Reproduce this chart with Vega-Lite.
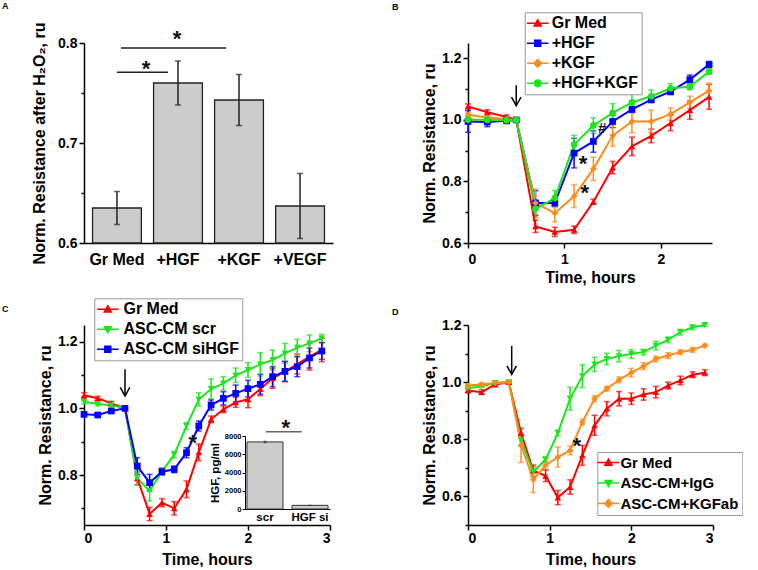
{
  "$schema": "https://vega.github.io/schema/vega-lite/v6.json",
  "padding": {"left": 2, "top": 1, "right": 0, "bottom": 0},
  "bounds": "flush",
  "align": "all",
  "columns": 2,
  "spacing": {"row": 82, "column": 135},
  "resolve": {"scale": {"color": "independent", "shape": "independent", "fill": "independent", "stroke": "independent"}},
  "datasets": {
    "a_bars": [
      {"group": "Gr Med", "value": 0.635, "err": 0.0165},
      {"group": "+HGF", "value": 0.76, "err": 0.022},
      {"group": "+KGF", "value": 0.743, "err": 0.0255},
      {"group": "+VEGF", "value": 0.637, "err": 0.0325}
    ],
    "a_sig": [
      {"x": 1.0, "x2": 1.837, "value": 0.7707},
      {"x": 1.067, "x2": 2.79, "value": 0.795}
    ],
    "a_text": [
      {"x": 1.477, "value": 0.767, "label": "*"},
      {"x": 1.985, "value": 0.7975, "label": "*"}
    ],
    "b": [
      {"series": "Gr Med", "t": 0, "v": 1.044, "err": 0.008},
      {"series": "Gr Med", "t": 0.2, "v": 1.025, "err": 0.008},
      {"series": "Gr Med", "t": 0.4, "v": 1.01, "err": 0.006},
      {"series": "Gr Med", "t": 0.5, "v": 1.0, "err": 0.004},
      {"series": "Gr Med", "t": 0.7, "v": 0.654, "err": 0.02},
      {"series": "Gr Med", "t": 0.9, "v": 0.636, "err": 0.015},
      {"series": "Gr Med", "t": 1.1, "v": 0.643, "err": 0.012},
      {"series": "Gr Med", "t": 1.3, "v": 0.734, "err": 0.008},
      {"series": "Gr Med", "t": 1.5, "v": 0.845, "err": 0.02},
      {"series": "Gr Med", "t": 1.7, "v": 0.914, "err": 0.03},
      {"series": "Gr Med", "t": 1.9, "v": 0.948, "err": 0.022},
      {"series": "Gr Med", "t": 2.1, "v": 0.99, "err": 0.025},
      {"series": "Gr Med", "t": 2.3, "v": 1.032, "err": 0.03},
      {"series": "Gr Med", "t": 2.5, "v": 1.075, "err": 0.04},
      {"series": "+HGF", "t": 0, "v": 0.995, "err": 0.035},
      {"series": "+HGF", "t": 0.2, "v": 0.993, "err": 0.015},
      {"series": "+HGF", "t": 0.4, "v": 0.997, "err": 0.008},
      {"series": "+HGF", "t": 0.5, "v": 1.0, "err": 0.005},
      {"series": "+HGF", "t": 0.7, "v": 0.73, "err": 0.04},
      {"series": "+HGF", "t": 0.9, "v": 0.73, "err": 0.012},
      {"series": "+HGF", "t": 1.1, "v": 0.892, "err": 0.048},
      {"series": "+HGF", "t": 1.3, "v": 0.93, "err": 0.035},
      {"series": "+HGF", "t": 1.5, "v": 0.995, "err": 0.02},
      {"series": "+HGF", "t": 1.7, "v": 1.034, "err": 0.01},
      {"series": "+HGF", "t": 1.9, "v": 1.066, "err": 0.01},
      {"series": "+HGF", "t": 2.1, "v": 1.092, "err": 0.01},
      {"series": "+HGF", "t": 2.3, "v": 1.131, "err": 0.015},
      {"series": "+HGF", "t": 2.5, "v": 1.18, "err": 0.01},
      {"series": "+KGF", "t": 0, "v": 1.017, "err": 0.008},
      {"series": "+KGF", "t": 0.2, "v": 1.008, "err": 0.008},
      {"series": "+KGF", "t": 0.4, "v": 1.003, "err": 0.006},
      {"series": "+KGF", "t": 0.5, "v": 1.0, "err": 0.004},
      {"series": "+KGF", "t": 0.7, "v": 0.73, "err": 0.045},
      {"series": "+KGF", "t": 0.9, "v": 0.697, "err": 0.028},
      {"series": "+KGF", "t": 1.1, "v": 0.752, "err": 0.037},
      {"series": "+KGF", "t": 1.3, "v": 0.841, "err": 0.038},
      {"series": "+KGF", "t": 1.5, "v": 0.949, "err": 0.035},
      {"series": "+KGF", "t": 1.7, "v": 0.995, "err": 0.037},
      {"series": "+KGF", "t": 1.9, "v": 0.995, "err": 0.037},
      {"series": "+KGF", "t": 2.1, "v": 1.019, "err": 0.02},
      {"series": "+KGF", "t": 2.3, "v": 1.057, "err": 0.02},
      {"series": "+KGF", "t": 2.5, "v": 1.095, "err": 0.025},
      {"series": "+HGF+KGF", "t": 0, "v": 1.001, "err": 0.01},
      {"series": "+HGF+KGF", "t": 0.2, "v": 1.0, "err": 0.008},
      {"series": "+HGF+KGF", "t": 0.4, "v": 0.999, "err": 0.006},
      {"series": "+HGF+KGF", "t": 0.5, "v": 1.0, "err": 0.004},
      {"series": "+HGF+KGF", "t": 0.7, "v": 0.711, "err": 0.03},
      {"series": "+HGF+KGF", "t": 0.9, "v": 0.746, "err": 0.025},
      {"series": "+HGF+KGF", "t": 1.1, "v": 0.92, "err": 0.03},
      {"series": "+HGF+KGF", "t": 1.3, "v": 0.982, "err": 0.025},
      {"series": "+HGF+KGF", "t": 1.5, "v": 1.023, "err": 0.03},
      {"series": "+HGF+KGF", "t": 1.7, "v": 1.057, "err": 0.03},
      {"series": "+HGF+KGF", "t": 1.9, "v": 1.077, "err": 0.02},
      {"series": "+HGF+KGF", "t": 2.1, "v": 1.103, "err": 0.015},
      {"series": "+HGF+KGF", "t": 2.3, "v": 1.108, "err": 0.01},
      {"series": "+HGF+KGF", "t": 2.5, "v": 1.157, "err": 0.008}
    ],
    "b_arrow": [{"t": 0.5, "v": 1.113, "v2": 1.046}],
    "b_text": [
      {"t": 1.193, "v": 0.835, "label": "*"},
      {"t": 1.21, "v": 0.741, "label": "*"},
      {"t": 1.39, "v": 0.958, "label": "#"}
    ],
    "c": [
      {"series": "Gr Med", "t": 0, "v": 1.039, "err": 0.008},
      {"series": "Gr Med", "t": 0.167, "v": 1.03, "err": 0.006},
      {"series": "Gr Med", "t": 0.333, "v": 1.015, "err": 0.006},
      {"series": "Gr Med", "t": 0.5, "v": 1.0, "err": 0.004},
      {"series": "Gr Med", "t": 0.65, "v": 0.79, "err": 0.02},
      {"series": "Gr Med", "t": 0.8, "v": 0.683, "err": 0.02},
      {"series": "Gr Med", "t": 0.95, "v": 0.717, "err": 0.012},
      {"series": "Gr Med", "t": 1.1, "v": 0.7, "err": 0.02},
      {"series": "Gr Med", "t": 1.25, "v": 0.757, "err": 0.025},
      {"series": "Gr Med", "t": 1.4, "v": 0.868, "err": 0.025},
      {"series": "Gr Med", "t": 1.55, "v": 0.967, "err": 0.01},
      {"series": "Gr Med", "t": 1.7, "v": 0.997, "err": 0.01},
      {"series": "Gr Med", "t": 1.85, "v": 1.018, "err": 0.015},
      {"series": "Gr Med", "t": 2.0, "v": 1.027, "err": 0.025},
      {"series": "Gr Med", "t": 2.15, "v": 1.058, "err": 0.02},
      {"series": "Gr Med", "t": 2.3, "v": 1.09, "err": 0.03},
      {"series": "Gr Med", "t": 2.45, "v": 1.11, "err": 0.03},
      {"series": "Gr Med", "t": 2.6, "v": 1.133, "err": 0.03},
      {"series": "Gr Med", "t": 2.75, "v": 1.155, "err": 0.04},
      {"series": "Gr Med", "t": 2.9, "v": 1.175, "err": 0.035},
      {"series": "ASC-CM scr", "t": 0, "v": 1.02, "err": 0.006},
      {"series": "ASC-CM scr", "t": 0.167, "v": 1.013, "err": 0.006},
      {"series": "ASC-CM scr", "t": 0.333, "v": 1.009, "err": 0.005},
      {"series": "ASC-CM scr", "t": 0.5, "v": 1.0, "err": 0.004},
      {"series": "ASC-CM scr", "t": 0.65, "v": 0.79, "err": 0.02},
      {"series": "ASC-CM scr", "t": 0.8, "v": 0.752, "err": 0.03},
      {"series": "ASC-CM scr", "t": 0.95, "v": 0.81, "err": 0.01},
      {"series": "ASC-CM scr", "t": 1.1, "v": 0.861, "err": 0.01},
      {"series": "ASC-CM scr", "t": 1.25, "v": 0.947, "err": 0.01},
      {"series": "ASC-CM scr", "t": 1.4, "v": 1.027, "err": 0.02},
      {"series": "ASC-CM scr", "t": 1.55, "v": 1.058, "err": 0.03},
      {"series": "ASC-CM scr", "t": 1.7, "v": 1.075, "err": 0.02},
      {"series": "ASC-CM scr", "t": 1.85, "v": 1.099, "err": 0.022},
      {"series": "ASC-CM scr", "t": 2.0, "v": 1.115, "err": 0.022},
      {"series": "ASC-CM scr", "t": 2.15, "v": 1.132, "err": 0.035},
      {"series": "ASC-CM scr", "t": 2.3, "v": 1.145, "err": 0.03},
      {"series": "ASC-CM scr", "t": 2.45, "v": 1.165, "err": 0.03},
      {"series": "ASC-CM scr", "t": 2.6, "v": 1.182, "err": 0.025},
      {"series": "ASC-CM scr", "t": 2.75, "v": 1.195, "err": 0.025},
      {"series": "ASC-CM scr", "t": 2.9, "v": 1.21, "err": 0.012},
      {"series": "ASC-CM siHGF", "t": 0, "v": 0.982, "err": 0.006},
      {"series": "ASC-CM siHGF", "t": 0.167, "v": 0.98, "err": 0.005},
      {"series": "ASC-CM siHGF", "t": 0.333, "v": 0.992, "err": 0.006},
      {"series": "ASC-CM siHGF", "t": 0.5, "v": 1.0, "err": 0.004},
      {"series": "ASC-CM siHGF", "t": 0.65, "v": 0.827, "err": 0.025},
      {"series": "ASC-CM siHGF", "t": 0.8, "v": 0.777, "err": 0.025},
      {"series": "ASC-CM siHGF", "t": 0.95, "v": 0.81, "err": 0.01},
      {"series": "ASC-CM siHGF", "t": 1.1, "v": 0.817, "err": 0.01},
      {"series": "ASC-CM siHGF", "t": 1.25, "v": 0.867, "err": 0.015},
      {"series": "ASC-CM siHGF", "t": 1.4, "v": 0.947, "err": 0.015},
      {"series": "ASC-CM siHGF", "t": 1.55, "v": 1.01, "err": 0.015},
      {"series": "ASC-CM siHGF", "t": 1.7, "v": 1.03, "err": 0.02},
      {"series": "ASC-CM siHGF", "t": 1.85, "v": 1.045, "err": 0.025},
      {"series": "ASC-CM siHGF", "t": 2.0, "v": 1.059, "err": 0.025},
      {"series": "ASC-CM siHGF", "t": 2.15, "v": 1.072, "err": 0.03},
      {"series": "ASC-CM siHGF", "t": 2.3, "v": 1.095, "err": 0.03},
      {"series": "ASC-CM siHGF", "t": 2.45, "v": 1.111, "err": 0.03},
      {"series": "ASC-CM siHGF", "t": 2.6, "v": 1.125, "err": 0.03},
      {"series": "ASC-CM siHGF", "t": 2.75, "v": 1.151, "err": 0.03},
      {"series": "ASC-CM siHGF", "t": 2.9, "v": 1.172, "err": 0.025}
    ],
    "c_arrow": [{"t": 0.5, "v": 1.117, "v2": 1.037}],
    "c_text": [
      {"t": 1.326, "v": 0.875, "label": "*"},
      {"t": 2.46, "v": 0.92, "label": "*"}
    ],
    "c_sig": [{"t": 2.216, "t2": 2.655, "v": 0.93}],
    "inset": [
      {"sample": "scr", "hgf": 7350, "err": 80},
      {"sample": "HGF si", "hgf": 400, "err": 20}
    ],
    "d": [
      {"series": "Gr Med", "t": 0, "v": 0.971, "err": 0.008},
      {"series": "Gr Med", "t": 0.167, "v": 0.965, "err": 0.008},
      {"series": "Gr Med", "t": 0.333, "v": 0.992, "err": 0.008},
      {"series": "Gr Med", "t": 0.5, "v": 1.0, "err": 0.004},
      {"series": "Gr Med", "t": 0.65, "v": 0.822, "err": 0.015},
      {"series": "Gr Med", "t": 0.8, "v": 0.69, "err": 0.02},
      {"series": "Gr Med", "t": 0.95, "v": 0.672, "err": 0.02},
      {"series": "Gr Med", "t": 1.1, "v": 0.596, "err": 0.025},
      {"series": "Gr Med", "t": 1.25, "v": 0.633, "err": 0.025},
      {"series": "Gr Med", "t": 1.4, "v": 0.744, "err": 0.035},
      {"series": "Gr Med", "t": 1.55, "v": 0.849, "err": 0.035},
      {"series": "Gr Med", "t": 1.7, "v": 0.907, "err": 0.025},
      {"series": "Gr Med", "t": 1.85, "v": 0.942, "err": 0.025},
      {"series": "Gr Med", "t": 2.0, "v": 0.942, "err": 0.02},
      {"series": "Gr Med", "t": 2.15, "v": 0.957, "err": 0.02},
      {"series": "Gr Med", "t": 2.3, "v": 0.965, "err": 0.02},
      {"series": "Gr Med", "t": 2.45, "v": 0.988, "err": 0.012},
      {"series": "Gr Med", "t": 2.6, "v": 1.006, "err": 0.015},
      {"series": "Gr Med", "t": 2.75, "v": 1.026, "err": 0.01},
      {"series": "Gr Med", "t": 2.9, "v": 1.033, "err": 0.01},
      {"series": "ASC-CM+IgG", "t": 0, "v": 0.979, "err": 0.006},
      {"series": "ASC-CM+IgG", "t": 0.167, "v": 0.986, "err": 0.005},
      {"series": "ASC-CM+IgG", "t": 0.333, "v": 0.997, "err": 0.005},
      {"series": "ASC-CM+IgG", "t": 0.5, "v": 1.0, "err": 0.004},
      {"series": "ASC-CM+IgG", "t": 0.65, "v": 0.796, "err": 0.02},
      {"series": "ASC-CM+IgG", "t": 0.8, "v": 0.686, "err": 0.015},
      {"series": "ASC-CM+IgG", "t": 0.95, "v": 0.729, "err": 0.01},
      {"series": "ASC-CM+IgG", "t": 1.1, "v": 0.822, "err": 0.01},
      {"series": "ASC-CM+IgG", "t": 1.25, "v": 0.942, "err": 0.04},
      {"series": "ASC-CM+IgG", "t": 1.4, "v": 1.021, "err": 0.04},
      {"series": "ASC-CM+IgG", "t": 1.55, "v": 1.062, "err": 0.025},
      {"series": "ASC-CM+IgG", "t": 1.7, "v": 1.081, "err": 0.02},
      {"series": "ASC-CM+IgG", "t": 1.85, "v": 1.091, "err": 0.02},
      {"series": "ASC-CM+IgG", "t": 2.0, "v": 1.099, "err": 0.015},
      {"series": "ASC-CM+IgG", "t": 2.15, "v": 1.105, "err": 0.01},
      {"series": "ASC-CM+IgG", "t": 2.3, "v": 1.128, "err": 0.015},
      {"series": "ASC-CM+IgG", "t": 2.45, "v": 1.148, "err": 0.01},
      {"series": "ASC-CM+IgG", "t": 2.6, "v": 1.175, "err": 0.01},
      {"series": "ASC-CM+IgG", "t": 2.75, "v": 1.192, "err": 0.008},
      {"series": "ASC-CM+IgG", "t": 2.9, "v": 1.2, "err": 0.005},
      {"series": "ASC-CM+KGFab", "t": 0, "v": 0.988, "err": 0.006},
      {"series": "ASC-CM+KGFab", "t": 0.167, "v": 0.992, "err": 0.005},
      {"series": "ASC-CM+KGFab", "t": 0.333, "v": 0.997, "err": 0.005},
      {"series": "ASC-CM+KGFab", "t": 0.5, "v": 1.0, "err": 0.004},
      {"series": "ASC-CM+KGFab", "t": 0.65, "v": 0.779, "err": 0.06},
      {"series": "ASC-CM+KGFab", "t": 0.8, "v": 0.659, "err": 0.045},
      {"series": "ASC-CM+KGFab", "t": 0.95, "v": 0.709, "err": 0.015},
      {"series": "ASC-CM+KGFab", "t": 1.1, "v": 0.738, "err": 0.035},
      {"series": "ASC-CM+KGFab", "t": 1.25, "v": 0.761, "err": 0.015},
      {"series": "ASC-CM+KGFab", "t": 1.4, "v": 0.86, "err": 0.01},
      {"series": "ASC-CM+KGFab", "t": 1.55, "v": 0.942, "err": 0.01},
      {"series": "ASC-CM+KGFab", "t": 1.7, "v": 0.977, "err": 0.008},
      {"series": "ASC-CM+KGFab", "t": 1.85, "v": 1.008, "err": 0.01},
      {"series": "ASC-CM+KGFab", "t": 2.0, "v": 1.033, "err": 0.015},
      {"series": "ASC-CM+KGFab", "t": 2.15, "v": 1.056, "err": 0.012},
      {"series": "ASC-CM+KGFab", "t": 2.3, "v": 1.081, "err": 0.01},
      {"series": "ASC-CM+KGFab", "t": 2.45, "v": 1.093, "err": 0.01},
      {"series": "ASC-CM+KGFab", "t": 2.6, "v": 1.105, "err": 0.008},
      {"series": "ASC-CM+KGFab", "t": 2.75, "v": 1.113, "err": 0.008},
      {"series": "ASC-CM+KGFab", "t": 2.9, "v": 1.128, "err": 0.005}
    ],
    "d_arrow": [{"t": 0.535, "v": 1.127, "v2": 1.027}],
    "d_text": [{"t": 1.331, "v": 0.751, "label": "*"}]
  },
  "concat": [
    {
      "width": 249,
      "height": 200,
      "title": {"text": "A", "dx": -82, "dy": -7.5},
      "encoding": {
        "y": {"field": "value", "type": "quantitative", "scale": {"domain": [0.6, 0.8], "zero": false, "nice": false}, "axis": {"title": "Norm. Resistance after H₂O₂, ru", "titlePadding": 10, "values": [0.6, 0.65, 0.7, 0.75, 0.8], "format": ".1f", "labelExpr": "abs(datum.value*10 - round(datum.value*10)) < 0.001 ? datum.label : ''", "tickSize": {"condition": {"test": "abs(datum.value*10 - round(datum.value*10)) < 0.001", "value": 5}, "value": 3}}}
      },
      "layer": [
        {
          "data": {"name": "a_bars"},
          "encoding": {
            "x": {"field": "group", "type": "nominal", "sort": null, "scale": {"paddingInner": 0.2, "paddingOuter": 0.14}, "axis": {"title": null, "labelAngle": 0, "labelFontSize": 16, "ticks": false, "labelPadding": 8}}
          },
          "layer": [
            {
              "mark": {"type": "bar", "fill": "#cccccc", "stroke": "#222222", "strokeWidth": 1.3},
              "encoding": {"y2": {"datum": 0.6}}
            },
            {
              "mark": {"type": "errorbar", "ticks": true, "size": 6, "thickness": 1.5, "color": "#222222"},
              "encoding": {"yError": {"field": "err"}}
            }
          ]
        },
        {
          "encoding": {
            "x": {"field": "x", "type": "quantitative", "scale": {"domain": [0.461, 4.541], "nice": false, "zero": false}, "axis": null}
          },
          "layer": [
            {
              "data": {"name": "a_sig"},
              "mark": {"type": "rule", "strokeWidth": 1.5, "color": "#222222"},
              "encoding": {"x2": {"field": "x2"}}
            },
            {
              "data": {"name": "a_text"},
              "mark": {"type": "text", "fontSize": 22, "fontWeight": "bold", "baseline": "alphabetic", "align": "center", "color": "#111111"},
              "encoding": {"text": {"field": "label"}}
            }
          ]
        }
      ],
      "resolve": {"scale": {"x": "independent"}}
    },
    {
      "width": 244,
      "height": 200,
      "title": {"text": "B", "dx": -76, "dy": 4},
      "encoding": {
        "x": {"field": "t", "type": "quantitative", "scale": {"domain": [0, 2.53], "nice": false, "zero": false}, "axis": {"title": "Time, hours", "values": [0, 0.5, 1, 1.5, 2, 2.5], "format": "d", "labelExpr": "datum.value % 1 === 0 ? datum.label : ''", "tickSize": {"condition": {"test": "datum.value % 1 === 0", "value": 5}, "value": 3}, "labelPadding": 4, "titlePadding": 3}},
        "y": {"field": "v", "type": "quantitative", "title": "Norm. Resistance, ru", "scale": {"domain": [0.6, 1.25], "nice": false, "zero": false}, "axis": {"title": "Norm. Resistance, ru", "values": [0.6, 0.7, 0.8, 0.9, 1.0, 1.1, 1.2], "format": ".1f", "labelExpr": "round(datum.value*10) % 2 === 0 ? datum.label : ''", "tickSize": {"condition": {"test": "round(datum.value*10) % 2 === 0", "value": 5}, "value": 3}}}
      },
      "layer": [
        {
          "data": {"name": "b"},
          "mark": {"type": "errorbar", "ticks": true, "size": 6, "thickness": 1.5},
          "encoding": {
            "yError": {"field": "err"},
            "color": {"field": "series", "type": "nominal", "scale": {"domain": ["Gr Med", "+HGF", "+KGF", "+HGF+KGF"], "range": ["#ff0000", "#0000ff", "#ff8c1a", "#1ee61e"]}, "legend": null}
          }
        },
        {
          "data": {"name": "b"},
          "mark": {"type": "line", "strokeWidth": 2},
          "encoding": {
            "color": {"field": "series", "type": "nominal", "scale": {"domain": ["Gr Med", "+HGF", "+KGF", "+HGF+KGF"], "range": ["#ff0000", "#0000ff", "#ff8c1a", "#1ee61e"]}, "legend": null}
          }
        },
        {
          "data": {"name": "b"},
          "mark": {"type": "point", "filled": true, "size": 45, "opacity": 1},
          "encoding": {
            "color": {"field": "series", "type": "nominal", "scale": {"domain": ["Gr Med", "+HGF", "+KGF", "+HGF+KGF"], "range": ["#ff0000", "#0000ff", "#ff8c1a", "#1ee61e"]}, "legend": null},
            "shape": {"field": "series", "type": "nominal", "scale": {"domain": ["Gr Med", "+HGF", "+KGF", "+HGF+KGF"], "range": ["triangle-up", "square", "diamond", "circle"]}, "legend": null}
          }
        },
        {
          "data": {"name": "b"},
          "mark": {"type": "point", "filled": true, "size": 45, "opacity": 0},
          "encoding": {
            "fill": {"field": "series", "type": "nominal", "scale": {"domain": ["Gr Med", "+HGF", "+KGF", "+HGF+KGF"], "range": ["#ff0000", "#0000ff", "#ff8c1a", "#1ee61e"]},
              "legend": {"orient": "none", "legendX": 56.7, "legendY": -30.7, "title": null, "labelFontSize": 16, "symbolSize": 49, "symbolStrokeWidth": 1.5, "symbolOpacity": 1, "padding": 3, "rowPadding": 4, "symbolOffset": 2, "labelOffset": 6, "strokeColor": "#999999", "fillColor": "white"}},
            "stroke": {"field": "series", "type": "nominal", "scale": {"domain": ["Gr Med", "+HGF", "+KGF", "+HGF+KGF"], "range": ["#ff0000", "#0000ff", "#ff8c1a", "#1ee61e"]},
              "legend": {"orient": "none", "legendX": 56.7, "legendY": -30.7, "title": null, "labelFontSize": 16, "symbolSize": 49, "symbolStrokeWidth": 1.5, "symbolOpacity": 1, "padding": 3, "rowPadding": 4, "symbolOffset": 2, "labelOffset": 6, "strokeColor": "#999999", "fillColor": "white"}},
            "shape": {"field": "series", "type": "nominal", "scale": {"domain": ["Gr Med", "+HGF", "+KGF", "+HGF+KGF"], "range": ["M-3.1,0H3.1M-1,0.75L0,-1L1,0.75Z", "M-3.1,0H3.1M-0.85,-0.85H0.85V0.85H-0.85Z", "M-3.1,0H3.1M0,-1.1L1.1,0L0,1.1L-1.1,0Z", "M-3.1,0H3.1M0.95,0A0.95,0.95,0,1,1,-0.95,0A0.95,0.95,0,1,1,0.95,0Z"]},
              "legend": {"orient": "none", "legendX": 56.7, "legendY": -30.7, "title": null, "labelFontSize": 16, "symbolSize": 49, "symbolStrokeWidth": 1.5, "symbolOpacity": 1, "padding": 3, "rowPadding": 4, "symbolOffset": 2, "labelOffset": 6, "strokeColor": "#999999", "fillColor": "white"}}
          }
        },
        {
          "data": {"name": "b_arrow"},
          "mark": {"type": "rule", "strokeWidth": 1.5, "color": "black"},
          "encoding": {"y2": {"field": "v2"}}
        },
        {
          "data": {"name": "b_arrow"},
          "mark": {"type": "point", "shape": "M-1,-1.8L0,0L1,-1.8", "filled": false, "stroke": "black", "strokeWidth": 1.5, "size": 90, "opacity": 1},
          "encoding": {"y": {"field": "v2", "type": "quantitative", "title": "Norm. Resistance, ru"}}
        },
        {
          "data": {"name": "b_text"},
          "mark": {"type": "text", "fontWeight": "bold", "baseline": "alphabetic", "align": "center", "color": "#111111"},
          "encoding": {
            "text": {"field": "label"},
            "size": {"condition": {"test": "datum.label === '#'", "value": 15}, "value": 22}
          }
        }
      ],
      "resolve": {"scale": {"shape": "independent", "fill": "independent", "stroke": "independent"}}
    },
    {
      "width": 246,
      "height": 200,
      "title": {"text": "C", "dx": -82, "dy": 20},
      "layer": [
        {
          "encoding": {
            "x": {"field": "t", "type": "quantitative", "scale": {"domain": [0, 3], "nice": false, "zero": false}, "axis": {"orient": "bottom", "title": "Time, hours", "values": [0, 0.5, 1, 1.5, 2, 2.5, 3], "format": "d", "labelExpr": "datum.value % 1 === 0 ? datum.label : ''", "tickSize": {"condition": {"test": "datum.value % 1 === 0", "value": 5}, "value": 3}, "labelPadding": 1, "titlePadding": 6}},
            "y": {"field": "v", "type": "quantitative", "title": "Norm. Resistance, ru", "scale": {"domain": [0.65, 1.25], "nice": false, "zero": false}, "axis": {"orient": "left", "title": "Norm. Resistance, ru", "values": [0.7, 0.8, 0.9, 1.0, 1.1, 1.2], "format": ".1f", "labelExpr": "round(datum.value*10) % 2 === 0 ? datum.label : ''", "tickSize": {"condition": {"test": "round(datum.value*10) % 2 === 0", "value": 5}, "value": 3}}}
          },
          "layer": [
            {
              "data": {"name": "c"},
              "mark": {"type": "errorbar", "ticks": true, "size": 6, "thickness": 1.5},
              "encoding": {
                "yError": {"field": "err"},
                "color": {"field": "series", "type": "nominal", "scale": {"domain": ["Gr Med", "ASC-CM scr", "ASC-CM siHGF"], "range": ["#ff0000", "#1ee61e", "#0000ff"]}, "legend": null}
              }
            },
            {
              "data": {"name": "c"},
              "mark": {"type": "line", "strokeWidth": 2},
              "encoding": {
                "color": {"field": "series", "type": "nominal", "scale": {"domain": ["Gr Med", "ASC-CM scr", "ASC-CM siHGF"], "range": ["#ff0000", "#1ee61e", "#0000ff"]}, "legend": null}
              }
            },
            {
              "data": {"name": "c"},
              "mark": {"type": "point", "filled": true, "size": 45, "opacity": 1},
              "encoding": {
                "color": {"field": "series", "type": "nominal", "scale": {"domain": ["Gr Med", "ASC-CM scr", "ASC-CM siHGF"], "range": ["#ff0000", "#1ee61e", "#0000ff"]}, "legend": null},
                "shape": {"field": "series", "type": "nominal", "scale": {"domain": ["Gr Med", "ASC-CM scr", "ASC-CM siHGF"], "range": ["triangle-up", "triangle-down", "square"]}, "legend": null}
              }
            },
            {
              "data": {"name": "c"},
              "mark": {"type": "point", "filled": true, "size": 45, "opacity": 0},
              "encoding": {
                "fill": {"field": "series", "type": "nominal", "scale": {"domain": ["Gr Med", "ASC-CM scr", "ASC-CM siHGF"], "range": ["#ff0000", "#1ee61e", "#0000ff"]},
                  "legend": {"orient": "none", "legendX": 10.3, "legendY": -26.7, "title": null, "labelFontSize": 16, "symbolSize": 49, "symbolStrokeWidth": 1.5, "symbolOpacity": 1, "padding": 3, "rowPadding": 4, "symbolOffset": 2.5, "labelOffset": 7.7, "strokeColor": "#999999", "fillColor": "white"}},
                "stroke": {"field": "series", "type": "nominal", "scale": {"domain": ["Gr Med", "ASC-CM scr", "ASC-CM siHGF"], "range": ["#ff0000", "#1ee61e", "#0000ff"]},
                  "legend": {"orient": "none", "legendX": 10.3, "legendY": -26.7, "title": null, "labelFontSize": 16, "symbolSize": 49, "symbolStrokeWidth": 1.5, "symbolOpacity": 1, "padding": 3, "rowPadding": 4, "symbolOffset": 2.5, "labelOffset": 7.7, "strokeColor": "#999999", "fillColor": "white"}},
                "shape": {"field": "series", "type": "nominal", "scale": {"domain": ["Gr Med", "ASC-CM scr", "ASC-CM siHGF"], "range": ["M-3.1,0H3.1M-1,0.75L0,-1L1,0.75Z", "M-3.1,0H3.1M-1,-0.75L0,1L1,-0.75Z", "M-3.1,0H3.1M-0.85,-0.85H0.85V0.85H-0.85Z"]},
                  "legend": {"orient": "none", "legendX": 10.3, "legendY": -26.7, "title": null, "labelFontSize": 16, "symbolSize": 49, "symbolStrokeWidth": 1.5, "symbolOpacity": 1, "padding": 3, "rowPadding": 4, "symbolOffset": 2.5, "labelOffset": 7.7, "strokeColor": "#999999", "fillColor": "white"}}
              }
            },
            {
              "data": {"name": "c_arrow"},
              "mark": {"type": "rule", "strokeWidth": 1.5, "color": "black"},
              "encoding": {"y2": {"field": "v2"}}
            },
            {
              "data": {"name": "c_arrow"},
              "mark": {"type": "point", "shape": "M-1,-1.8L0,0L1,-1.8", "filled": false, "stroke": "black", "strokeWidth": 1.5, "size": 90, "opacity": 1},
              "encoding": {"y": {"field": "v2", "type": "quantitative", "title": "Norm. Resistance, ru"}}
            },
            {
              "data": {"name": "c_sig"},
              "mark": {"type": "rule", "strokeWidth": 1.5, "color": "#666666"},
              "encoding": {"x2": {"field": "t2"}}
            },
            {
              "data": {"name": "c_text"},
              "mark": {"type": "text", "fontWeight": "bold", "fontSize": 22, "baseline": "alphabetic", "align": "center", "color": "#111111"},
              "encoding": {"text": {"field": "label"}}
            }
          ],
          "resolve": {"scale": {"shape": "independent", "fill": "independent", "stroke": "independent"}}
        },
        {
          "data": {"name": "inset"},
          "encoding": {
            "x": {"field": "sample", "type": "nominal", "sort": null, "scale": {"type": "band", "range": [161, 246], "paddingInner": 0.2, "paddingOuter": 0.044}, "axis": {"orient": "bottom", "offset": -16, "title": null, "labelAngle": 0, "labelFontSize": 11.5, "ticks": false, "labelPadding": 2, "domainWidth": 1}},
            "y": {"field": "hgf", "type": "quantitative", "scale": {"domain": [0, 8000], "range": [184, 111], "nice": false}, "axis": {"orient": "left", "offset": -161, "title": "HGF, pg/ml", "titleFontSize": 11.5, "titlePadding": 4, "values": [0, 2000, 4000, 6000, 8000], "format": "d", "labelFontSize": 7.5, "labelPadding": 1, "tickSize": 3, "tickWidth": 1, "domainWidth": 1}}
          },
          "layer": [
            {"mark": {"type": "bar", "fill": "#cccccc", "stroke": "#333333", "strokeWidth": 1}},
            {"mark": {"type": "errorbar", "ticks": true, "size": 3, "thickness": 1, "color": "#333333"}, "encoding": {"yError": {"field": "err"}}}
          ]
        }
      ],
      "resolve": {"scale": {"x": "independent", "y": "independent"}}
    },
    {
      "width": 245,
      "height": 200,
      "title": {"text": "D", "dx": -76, "dy": 3},
      "encoding": {
        "x": {"field": "t", "type": "quantitative", "scale": {"domain": [0, 3], "nice": false, "zero": false}, "axis": {"title": "Time, hours", "values": [0, 0.5, 1, 1.5, 2, 2.5, 3], "format": "d", "labelExpr": "datum.value % 1 === 0 ? datum.label : ''", "tickSize": {"condition": {"test": "datum.value % 1 === 0", "value": 5}, "value": 3}, "labelPadding": 1, "titlePadding": 6}},
        "y": {"field": "v", "type": "quantitative", "title": "Norm. Resistance, ru", "scale": {"domain": [0.5, 1.2], "nice": false, "zero": false}, "axis": {"title": "Norm. Resistance, ru", "values": [0.5, 0.6, 0.7, 0.8, 0.9, 1.0, 1.1, 1.2], "format": ".1f", "labelExpr": "round(datum.value*10) % 2 === 0 ? datum.label : ''", "tickSize": {"condition": {"test": "round(datum.value*10) % 2 === 0", "value": 5}, "value": 3}}}
      },
      "layer": [
        {
          "data": {"name": "d"},
          "mark": {"type": "errorbar", "ticks": true, "size": 6, "thickness": 1.5},
          "encoding": {
            "yError": {"field": "err"},
            "color": {"field": "series", "type": "nominal", "scale": {"domain": ["Gr Med", "ASC-CM+IgG", "ASC-CM+KGFab"], "range": ["#ff0000", "#1ee61e", "#ff8c1a"]}, "legend": null}
          }
        },
        {
          "data": {"name": "d"},
          "mark": {"type": "line", "strokeWidth": 2},
          "encoding": {
            "color": {"field": "series", "type": "nominal", "scale": {"domain": ["Gr Med", "ASC-CM+IgG", "ASC-CM+KGFab"], "range": ["#ff0000", "#1ee61e", "#ff8c1a"]}, "legend": null}
          }
        },
        {
          "data": {"name": "d"},
          "mark": {"type": "point", "filled": true, "size": 45, "opacity": 1},
          "encoding": {
            "color": {"field": "series", "type": "nominal", "scale": {"domain": ["Gr Med", "ASC-CM+IgG", "ASC-CM+KGFab"], "range": ["#ff0000", "#1ee61e", "#ff8c1a"]}, "legend": null},
            "shape": {"field": "series", "type": "nominal", "scale": {"domain": ["Gr Med", "ASC-CM+IgG", "ASC-CM+KGFab"], "range": ["triangle-up", "triangle-down", "diamond"]}, "legend": null}
          }
        },
        {
          "data": {"name": "d"},
          "mark": {"type": "point", "filled": true, "size": 45, "opacity": 0},
          "encoding": {
            "fill": {"field": "series", "type": "nominal", "scale": {"domain": ["Gr Med", "ASC-CM+IgG", "ASC-CM+KGFab"], "range": ["#ff0000", "#1ee61e", "#ff8c1a"]},
              "legend": {"orient": "none", "legendX": 129.3, "legendY": 127, "title": null, "labelFontSize": 15, "symbolSize": 49, "symbolStrokeWidth": 1.5, "symbolOpacity": 1, "padding": 3, "rowPadding": 4.5, "symbolOffset": 0.7, "labelOffset": 4.4, "strokeColor": "#999999", "fillColor": "white"}},
            "stroke": {"field": "series", "type": "nominal", "scale": {"domain": ["Gr Med", "ASC-CM+IgG", "ASC-CM+KGFab"], "range": ["#ff0000", "#1ee61e", "#ff8c1a"]},
              "legend": {"orient": "none", "legendX": 129.3, "legendY": 127, "title": null, "labelFontSize": 15, "symbolSize": 49, "symbolStrokeWidth": 1.5, "symbolOpacity": 1, "padding": 3, "rowPadding": 4.5, "symbolOffset": 0.7, "labelOffset": 4.4, "strokeColor": "#999999", "fillColor": "white"}},
            "shape": {"field": "series", "type": "nominal", "scale": {"domain": ["Gr Med", "ASC-CM+IgG", "ASC-CM+KGFab"], "range": ["M-3.1,0H3.1M-1,0.75L0,-1L1,0.75Z", "M-3.1,0H3.1M-1,-0.75L0,1L1,-0.75Z", "M-3.1,0H3.1M0,-1.1L1.1,0L0,1.1L-1.1,0Z"]},
              "legend": {"orient": "none", "legendX": 129.3, "legendY": 127, "title": null, "labelFontSize": 15, "symbolSize": 49, "symbolStrokeWidth": 1.5, "symbolOpacity": 1, "padding": 3, "rowPadding": 4.5, "symbolOffset": 0.7, "labelOffset": 4.4, "strokeColor": "#999999", "fillColor": "white"}}
          }
        },
        {
          "data": {"name": "d_arrow"},
          "mark": {"type": "rule", "strokeWidth": 1.5, "color": "black"},
          "encoding": {"y2": {"field": "v2"}}
        },
        {
          "data": {"name": "d_arrow"},
          "mark": {"type": "point", "shape": "M-1,-1.8L0,0L1,-1.8", "filled": false, "stroke": "black", "strokeWidth": 1.5, "size": 90, "opacity": 1},
          "encoding": {"y": {"field": "v2", "type": "quantitative", "title": "Norm. Resistance, ru"}}
        },
        {
          "data": {"name": "d_text"},
          "mark": {"type": "text", "fontWeight": "bold", "fontSize": 22, "baseline": "alphabetic", "align": "center", "color": "#111111"},
          "encoding": {"text": {"field": "label"}}
        }
      ],
      "resolve": {"scale": {"shape": "independent", "fill": "independent", "stroke": "independent"}}
    }
  ],
  "config": {
    "font": "Liberation Sans",
    "view": {"stroke": null},
    "axis": {
      "labelFont": "Liberation Sans", "labelFontWeight": "bold", "labelFontSize": 14, "labelColor": "black",
      "titleFont": "Liberation Sans", "titleFontWeight": "bold", "titleFontSize": 16, "titleColor": "black",
      "domainColor": "black", "domainWidth": 1.5, "tickColor": "black", "tickWidth": 1.5,
      "grid": false, "labelPadding": 2, "titlePadding": 4
    },
    "legend": {"labelFont": "Liberation Sans", "labelFontWeight": "bold", "labelColor": "black", "strokeWidth": 1},
    "title": {"font": "Liberation Sans", "fontSize": 9, "fontWeight": "bold", "anchor": "start", "frame": "group", "offset": 0, "color": "black"}
  }
}
